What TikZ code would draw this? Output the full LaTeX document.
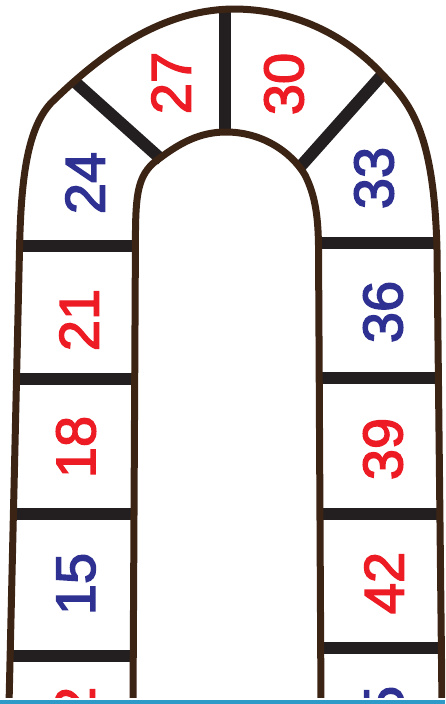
\documentclass[tikz,border=0pt]{standalone}
\usepackage{fontspec}
\setmainfont{Liberation Sans}
\newfontfamily\numfont[FakeBold=2.5]{Liberation Sans}
\definecolor{brd}{HTML}{3C2415}
\definecolor{barc}{HTML}{231F20}
\definecolor{nred}{HTML}{ED1C24}
\definecolor{nblue}{HTML}{2E3192}
\definecolor{lineblue}{HTML}{2E9AC8}
\begin{document}
\begin{tikzpicture}[x=1pt,y=-1pt,
 outline/.style={draw=brd,line width=7pt,line join=round},
 divbar/.style={draw=barc,line width=12pt},
 num/.style={font=\numfont\fontsize{56}{56}\selectfont,rotate=90,inner sep=0pt},
 rednum/.style={num,text=nred},
 bluenum/.style={num,text=nblue}]
\useasboundingbox (0,0) rectangle (445,704);
\fill[white] (0,0) rectangle (445,704);
\begin{scope}
\clip (0,0) rectangle (445,697.5);
% dividers
\draw[divbar] (225,9) -- (225,133);
\draw[divbar] (75,82) -- (162,160);
\draw[divbar] (382,75) -- (300,167);
\draw[divbar] (19,246) -- (135,246);
\draw[divbar] (16,378.5) -- (135,378.5);
\draw[divbar] (12.5,514) -- (134,514);
\draw[divbar] (9.5,656) -- (134,656);
\draw[divbar] (319,242.5) -- (439,242.5);
\draw[divbar] (320,378) -- (440,378);
\draw[divbar] (321,514) -- (441,514);
\draw[divbar] (321,648) -- (442,648);
% outlines
\draw[outline] (9,705) -- (19.5,250) .. controls (21,175) and (28,128) .. (51,103)
  .. controls (100,55) and (160,10) .. (233,9)
  .. controls (300,9) and (350,40) .. (381,73)
  .. controls (410,103) and (434,130) .. (437,250) -- (442,705);
\draw[outline] (133,705) -- (135.5,230) .. controls (136,190) and (139,172) .. (160,158)
  .. controls (180,143) and (200,132) .. (226,132)
  .. controls (260,132) and (290,150) .. (305,175)
  .. controls (315,195) and (318,215) .. (318.5,245) -- (321,705);
% numbers
\node[bluenum] (n24) at (85,183) {24};
\node[rednum] (n27) at (171,83) {27};
\node[rednum] (n30) at (284,84) {30};
\node[bluenum] (n33) at (374,178) {33};
\node[rednum] (n21) at (79,320) {21};
\node[bluenum] (n36) at (383,312) {36};
\node[rednum] (n18) at (76,447) {18};
\node[rednum] (n39) at (383,449) {39};
\node[bluenum] (n15) at (76,584) {15};
\node[rednum] (n42) at (384,583) {42};
\node[rednum] (n12) at (75,718) {12};
\node[bluenum] (n45) at (384,717) {45};
\end{scope}
\fill[lineblue] (0,700) rectangle (445,704);
\end{tikzpicture}
\end{document}
